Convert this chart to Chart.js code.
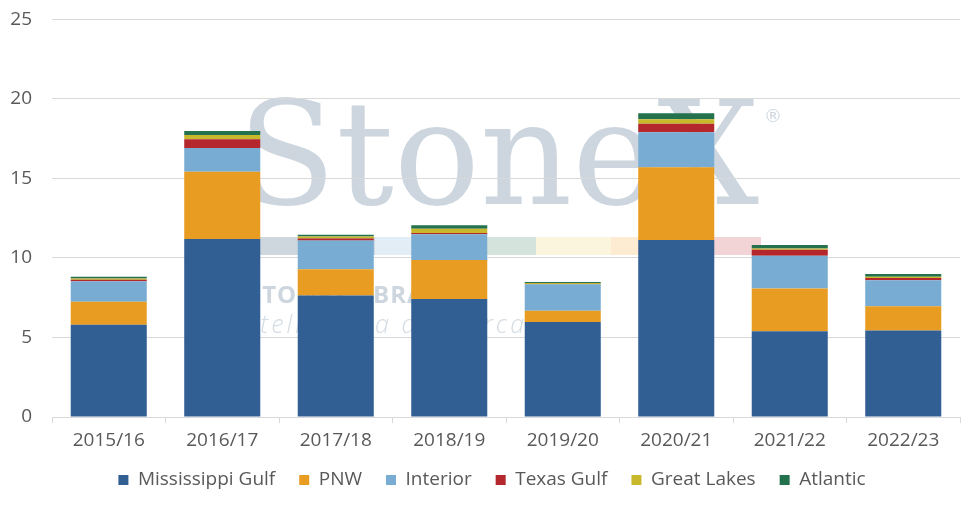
<!DOCTYPE html>
<html>
<head>
<meta charset="utf-8">
<script src="https://cdn.jsdelivr.net/npm/chart.js@4"></script>
<style>
  html, body { margin: 0; padding: 0; background: #ffffff; }
  #wrap { width: 975px; height: 506px; position: relative; }
</style>
</head>
<body>
<div id="wrap"><canvas id="c" width="975" height="506"></canvas></div>
<script>
const categories = ['2015/16', '2016/17', '2017/18', '2018/19', '2019/20', '2020/21', '2021/22', '2022/23'];
const mississippiGulf = [5.80, 11.19, 7.63, 7.42, 5.97, 11.13, 5.39, 5.43];
const pnw            = [1.45, 4.23, 1.66, 2.45, 0.71, 4.57, 2.68, 1.53];
const interior       = [1.28, 1.49, 1.80, 1.62, 1.66, 2.20, 2.06, 1.64];
const texasGulf      = [0.10, 0.55, 0.13, 0.08, 0.02, 0.54, 0.38, 0.14];
const greatLakes     = [0.08, 0.27, 0.13, 0.27, 0.06, 0.28, 0.08, 0.08];
const atlantic       = [0.10, 0.25, 0.10, 0.21, 0.06, 0.38, 0.22, 0.17];
const yTicks = [0, 5, 10, 15, 20, 25];

const seriesNames = ['Mississippi Gulf', 'PNW', 'Interior', 'Texas Gulf', 'Great Lakes', 'Atlantic'];
const seriesData = [mississippiGulf, pnw, interior, texasGulf, greatLakes, atlantic];
const seriesColors = ['#325F93', '#E99C22', '#79ACD3', '#B3272D', '#C8B82C', '#23724D'];

const watermark = {
  id: 'watermark',
  afterLayout(chart) {
    if (chart.legend) { chart.legend.left += 16; }
  },
  beforeDraw(chart) {
    const ctx = chart.ctx;
    ctx.save();
    const strip = [
      [260, 375, '#ced6de'], [375, 487, '#e2edf6'], [487, 536, '#d4e4dc'],
      [536, 611, '#fbf5dd'], [611, 676, '#fdebd2'], [676, 761, '#f2d4d6']
    ];
    strip.forEach(s => { ctx.fillStyle = s[2]; ctx.fillRect(s[0], 237, s[1] - s[0], 18); });
    ctx.fillStyle = '#cdd6de';
    ctx.textBaseline = 'alphabetic';
    ctx.textAlign = 'left';
    let fs = 143;
    ctx.font = fs + 'px "DejaVu Serif"';
    const w = ctx.measureText('StoneX').width;
    fs = fs * 521 / w;
    ctx.font = fs + 'px "DejaVu Serif"';
    ctx.fillText('StoneX', 238, 204);
    ctx.font = '18px "DejaVu Sans"';
    ctx.fillText('®', 764, 122);
    ctx.font = 'bold 24px "Open Sans"';
    ctx.fillStyle = '#cdd6de';
    if ('letterSpacing' in ctx) ctx.letterSpacing = '1px';
    ctx.fillText('STONEX', 248, 303);
    ctx.fillText('BRASIL', 373, 303);
    if ('letterSpacing' in ctx) ctx.letterSpacing = '3px';
    ctx.font = 'italic 300 25px "Open Sans"';
    ctx.fillStyle = '#d3dbe3';
    ctx.fillText('Inteligência de mercado', 234, 333);
    ctx.restore();
  }
};

new Chart(document.getElementById('c'), {
  type: 'bar',
  data: {
    labels: categories,
    datasets: seriesNames.map((n, i) => ({
      label: n,
      data: seriesData[i],
      backgroundColor: seriesColors[i],
      borderWidth: 0,
      barPercentage: 0.67,
      categoryPercentage: 1.0
    }))
  },
  options: {
    responsive: false,
    animation: false,
    devicePixelRatio: 1,
    layout: { padding: { left: 8, right: 15, top: 19.3, bottom: 6.5 } },
    plugins: {
      legend: {
        position: 'bottom',
        labels: {
          boxWidth: 10, boxHeight: 10, padding: 24,
          color: '#595959',
          font: { family: 'Open Sans', size: 19 }
        }
      },
      tooltip: { enabled: false }
    },
    scales: {
      x: {
        stacked: true,
        afterFit(s) { s.height = 29.5; s.paddingLeft = 0; s.paddingRight = 0; },
        grid: { display: true, drawOnChartArea: false, drawTicks: true, tickLength: 6, color: '#d9d9d9', offset: true },
        border: { display: true, color: '#d9d9d9', width: 1 },
        ticks: { color: '#595959', font: { family: 'Open Sans', size: 19 }, padding: 6.6 }
      },
      y: {
        stacked: true,
        min: 0, max: 25,
        afterBuildTicks(axis) { axis.ticks = yTicks.map(v => ({ value: v })); },
        afterFit(s) { s.width = 44; s.paddingTop = 0; s.paddingBottom = 0; },
        grid: { color: '#d9d9d9', drawTicks: false },
        border: { display: false },
        ticks: { color: '#595959', font: { family: 'Open Sans', size: 19 }, padding: 20 }
      }
    }
  },
  plugins: [watermark]
});
</script>
</body>
</html>
